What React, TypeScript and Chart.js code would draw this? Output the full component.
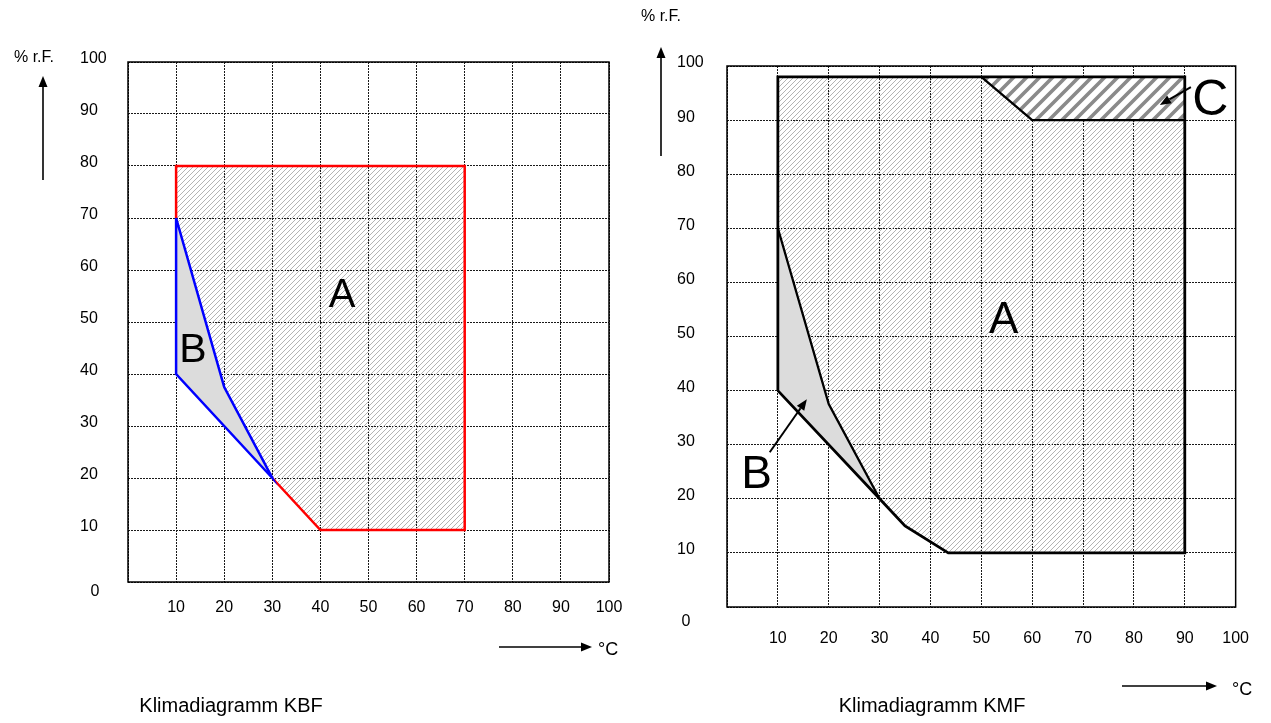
import React, { useEffect, useRef } from "react";
import { Chart, registerables } from "chart.js";

Chart.register(...registerables);

const FONT = "'Liberation Sans', Arial, Helvetica, sans-serif";

// ---- tick labels ----
const tempTicks = [0, 10, 20, 30, 40, 50, 60, 70, 80, 90, 100];
const rhTicks = [0, 10, 20, 30, 40, 50, 60, 70, 80, 90, 100];

// ---- Klimadiagramm KBF ----
const kbfAreaATemp = [10, 70, 70, 40, 30, 20, 10];
const kbfAreaARh = [80, 80, 10, 10, 20, 37.5, 70];
const kbfAreaBTemp = [10, 20, 30, 10];
const kbfAreaBRh = [70, 37.5, 20, 40];
const kbfRedTemp = [10, 10, 70, 70, 40, 30];
const kbfRedRh = [70, 80, 80, 10, 10, 20];
const kbfBlueTemp = [10, 20, 30, 10, 10];
const kbfBlueRh = [70, 37.5, 20, 40, 70];

// ---- Klimadiagramm KMF ----
const kmfAreaATemp = [10, 90, 90, 43.5, 35, 30, 20, 10];
const kmfAreaARh = [98, 98, 10, 10, 15, 20, 37.5, 70];
const kmfAreaBTemp = [10, 20, 30, 10];
const kmfAreaBRh = [70, 37.5, 20, 40];
const kmfAreaCTemp = [50, 90, 90, 60];
const kmfAreaCRh = [98, 98, 90, 90];
const kmfOutlineTemp = [10, 10, 90, 90, 43.5, 35, 30, 10];
const kmfOutlineRh = [40, 98, 98, 10, 10, 15, 20, 40];
const kmfBEdgeTemp = [10, 20, 30];
const kmfBEdgeRh = [70, 37.5, 20];
const kmfCEdgeTemp = [50, 60, 90];
const kmfCEdgeRh = [98, 90, 90];

// ---- texts ----
const rhTitle = "% r.F.";
const tempTitle = "°C";
const kbfTitle = "Klimadiagramm KBF";
const kmfTitle = "Klimadiagramm KMF";

const pts = (xs: number[], ys: number[]) => xs.map((x, i) => ({ x, y: ys[i] }));

function makeHatch(size: number, lw: number, color: string, bg?: string) {
  const c = document.createElement("canvas");
  c.width = size;
  c.height = size;
  const g = c.getContext("2d")!;
  if (bg) {
    g.fillStyle = bg;
    g.fillRect(0, 0, size, size);
  }
  g.strokeStyle = color;
  g.lineWidth = lw;
  g.beginPath();
  g.moveTo(-size, 2 * size);
  g.lineTo(2 * size, -size);
  g.moveTo(-size, size);
  g.lineTo(size, -size);
  g.moveTo(0, 2 * size);
  g.lineTo(2 * size, 0);
  g.stroke();
  return g.createPattern(c, "repeat")!;
}

function drawArrow(ctx: CanvasRenderingContext2D, x1: number, y1: number, x2: number, y2: number, lw: number, hl: number, hw: number) {
  const ang = Math.atan2(y2 - y1, x2 - x1);
  const bx = x2 - hl * Math.cos(ang);
  const by = y2 - hl * Math.sin(ang);
  ctx.lineWidth = lw;
  ctx.beginPath();
  ctx.moveTo(x1, y1);
  ctx.lineTo(bx, by);
  ctx.stroke();
  ctx.beginPath();
  ctx.moveTo(x2, y2);
  ctx.lineTo(bx + (hw / 2) * Math.sin(ang), by - (hw / 2) * Math.cos(ang));
  ctx.lineTo(bx - (hw / 2) * Math.sin(ang), by + (hw / 2) * Math.cos(ang));
  ctx.closePath();
  ctx.fill();
}

const decoPlugin = {
  id: "deco",
  beforeDatasetsDraw(chart: any, _a: any, opts: any) {
    const { ctx, chartArea } = chart;
    ctx.save();
    ctx.strokeStyle = "#000";
    ctx.lineWidth = opts.frameWidth;
    ctx.strokeRect(chartArea.left, chartArea.top, chartArea.right - chartArea.left, chartArea.bottom - chartArea.top);
    ctx.restore();
  },
  afterDraw(chart: any, _a: any, opts: any) {
    const { ctx, scales } = chart;
    ctx.save();
    ctx.fillStyle = "#000";
    ctx.strokeStyle = "#000";
    for (const t of opts.texts) {
      ctx.font = `${t.size}px ${FONT}`;
      ctx.textAlign = t.align;
      ctx.textBaseline = "middle";
      ctx.fillText(t.text, t.x, t.y);
    }
    for (const a of opts.arrows) {
      drawArrow(ctx, a.x1, a.y1, a.x2, a.y2, 1.6, 11, 9);
    }
    for (const l of opts.regionLabels) {
      ctx.font = `${l.size}px ${FONT}`;
      ctx.textAlign = "center";
      ctx.textBaseline = "middle";
      ctx.fillText(l.text, scales.x.getPixelForValue(l.x), scales.y.getPixelForValue(l.y));
    }
    for (const a of opts.dataArrows) {
      drawArrow(
        ctx,
        scales.x.getPixelForValue(a.x1),
        scales.y.getPixelForValue(a.y1),
        scales.x.getPixelForValue(a.x2),
        scales.y.getPixelForValue(a.y2),
        2,
        11,
        9
      );
    }
    ctx.restore();
  },
};

function fillSet(data: any[], bg: any, order: number) {
  return {
    data,
    showLine: true,
    fill: "shape",
    backgroundColor: bg,
    borderColor: "rgba(0,0,0,0)",
    borderWidth: 1,
    pointRadius: 0,
    tension: 0,
    order,
  };
}

function lineSet(data: any[], color: string, width: number, order: number) {
  return {
    data,
    showLine: true,
    fill: false,
    borderColor: color,
    borderWidth: width,
    borderJoinStyle: "miter",
    pointRadius: 0,
    tension: 0,
    order,
  };
}

function makeOptions(cfg: any) {
  const tickFont = { family: FONT, size: 16 };
  return {
    animation: false,
    responsive: false,
    events: [],
    layout: { padding: { left: cfg.padLeft, top: cfg.padTop, right: cfg.padRight, bottom: 0 } },
    scales: {
      x: {
        type: "linear",
        min: 0,
        max: 100,
        afterBuildTicks: (s: any) => {
          s.ticks = tempTicks.map((v) => ({ value: v }));
        },
        ticks: {
          autoSkip: false,
          maxRotation: 0,
          color: "#000",
          font: tickFont,
          padding: cfg.xPad,
          callback: (v: any) => (v === 0 ? "" : String(v)),
        },
        grid: { color: "#1a1a1a", lineWidth: 1, drawTicks: false },
        border: { display: false, dash: [2, 1] },
        afterFit: (s: any) => {
          s.height = cfg.xAxisHeight;
        },
      },
      y: {
        type: "linear",
        min: 0,
        max: 100,
        afterBuildTicks: (s: any) => {
          s.ticks = rhTicks.map((v) => ({ value: v }));
        },
        ticks: {
          autoSkip: false,
          color: "#000",
          font: tickFont,
          crossAlign: "far",
          labelOffset: -3,
          callback: (v: any) => (v === 0 ? "" : String(v)),
        },
        grid: { color: "#1a1a1a", lineWidth: 1, drawTicks: false },
        border: { display: false, dash: [2, 1] },
        afterFit: (s: any) => {
          s.width = cfg.yAxisWidth;
        },
      },
    },
    plugins: {
      legend: { display: false },
      tooltip: { enabled: false },
      deco: cfg.deco,
    },
  };
}

export default function App() {
  const ref1 = useRef<HTMLCanvasElement>(null);
  const ref2 = useRef<HTMLCanvasElement>(null);

  useEffect(() => {
    const fine = makeHatch(5, 1, "#b4b4b4");
    const coarse = makeHatch(13, 3.6, "#8a8a8a", "#ffffff");

    const c1 = new Chart(ref1.current!, {
      type: "scatter",
      data: {
        datasets: [
          fillSet(pts(kbfAreaATemp, kbfAreaARh), fine, 10),
          fillSet(pts(kbfAreaBTemp, kbfAreaBRh), "#dcdcdc", 9),
          lineSet(pts(kbfRedTemp, kbfRedRh), "#ff0000", 2.5, 8),
          lineSet(pts(kbfBlueTemp, kbfBlueRh), "#0000ff", 2.5, 7),
        ] as any,
      },
      options: makeOptions({
        padLeft: 80,
        padTop: 62,
        padRight: 31,
        yAxisWidth: 48,
        xAxisHeight: 141,
        xPad: 16,
        deco: {
          frameWidth: 1.5,
          texts: [
            { text: rhTitle, x: 14, y: 58, size: 16, align: "left" },
            { text: tempTitle, x: 598, y: 650, size: 18, align: "left" },
            { text: kbfTitle, x: 231, y: 706, size: 20, align: "center" },
            { text: String(rhTicks[0]), x: 95, y: 592, size: 16, align: "center" },
          ],
          arrows: [
            { x1: 43, y1: 180, x2: 43, y2: 76 },
            { x1: 499, y1: 647, x2: 592, y2: 647 },
          ],
          regionLabels: [
            { text: "A", x: 44.5, y: 55.0, size: 40 },
            { text: "B", x: 13.5, y: 44.5, size: 41 },
          ],
          dataArrows: [],
        },
      }) as any,
      plugins: [decoPlugin as any],
    });

    const c2 = new Chart(ref2.current!, {
      type: "scatter",
      data: {
        datasets: [
          fillSet(pts(kmfAreaATemp, kmfAreaARh), fine, 20),
          fillSet(pts(kmfAreaBTemp, kmfAreaBRh), "#dcdcdc", 19),
          fillSet(pts(kmfAreaCTemp, kmfAreaCRh), coarse, 18),
          lineSet(pts(kmfOutlineTemp, kmfOutlineRh), "#000000", 2.8, 17),
          lineSet(pts(kmfBEdgeTemp, kmfBEdgeRh), "#000000", 2.3, 16),
          lineSet(pts(kmfCEdgeTemp, kmfCEdgeRh), "#000000", 2.3, 15),
        ] as any,
      },
      options: makeOptions({
        padLeft: 41,
        padTop: 66,
        padRight: 33,
        yAxisWidth: 50,
        xAxisHeight: 116,
        xPad: 22,
        deco: {
          frameWidth: 1.5,
          texts: [
            { text: rhTitle, x: 5, y: 17, size: 16, align: "left" },
            { text: tempTitle, x: 596, y: 690, size: 18, align: "left" },
            { text: kmfTitle, x: 296, y: 706, size: 20, align: "center" },
            { text: String(rhTicks[0]), x: 50, y: 622, size: 16, align: "center" },
          ],
          arrows: [
            { x1: 25, y1: 156, x2: 25, y2: 47 },
            { x1: 486, y1: 686, x2: 581, y2: 686 },
          ],
          regionLabels: [
            { text: "A", x: 54.4, y: 52.8, size: 44 },
            { text: "B", x: 5.8, y: 24.4, size: 46 },
            { text: "C", x: 95.0, y: 93.4, size: 50 },
          ],
          dataArrows: [
            { x1: 8.4, y1: 28.6, x2: 15.7, y2: 38.4 },
            { x1: 91.2, y1: 96.1, x2: 85.1, y2: 92.8 },
          ],
        },
      }) as any,
      plugins: [decoPlugin as any],
    });

    return () => {
      c1.destroy();
      c2.destroy();
    };
  }, []);

  return (
    <div style={{ position: "absolute", left: 0, top: 0, width: 1271, height: 723, background: "#fff", overflow: "hidden" }}>
      <canvas ref={ref1} width={640} height={723} style={{ position: "absolute", left: 0, top: 0, width: 640, height: 723 }} />
      <canvas ref={ref2} width={635} height={723} style={{ position: "absolute", left: 636, top: 0, width: 635, height: 723 }} />
    </div>
  );
}
